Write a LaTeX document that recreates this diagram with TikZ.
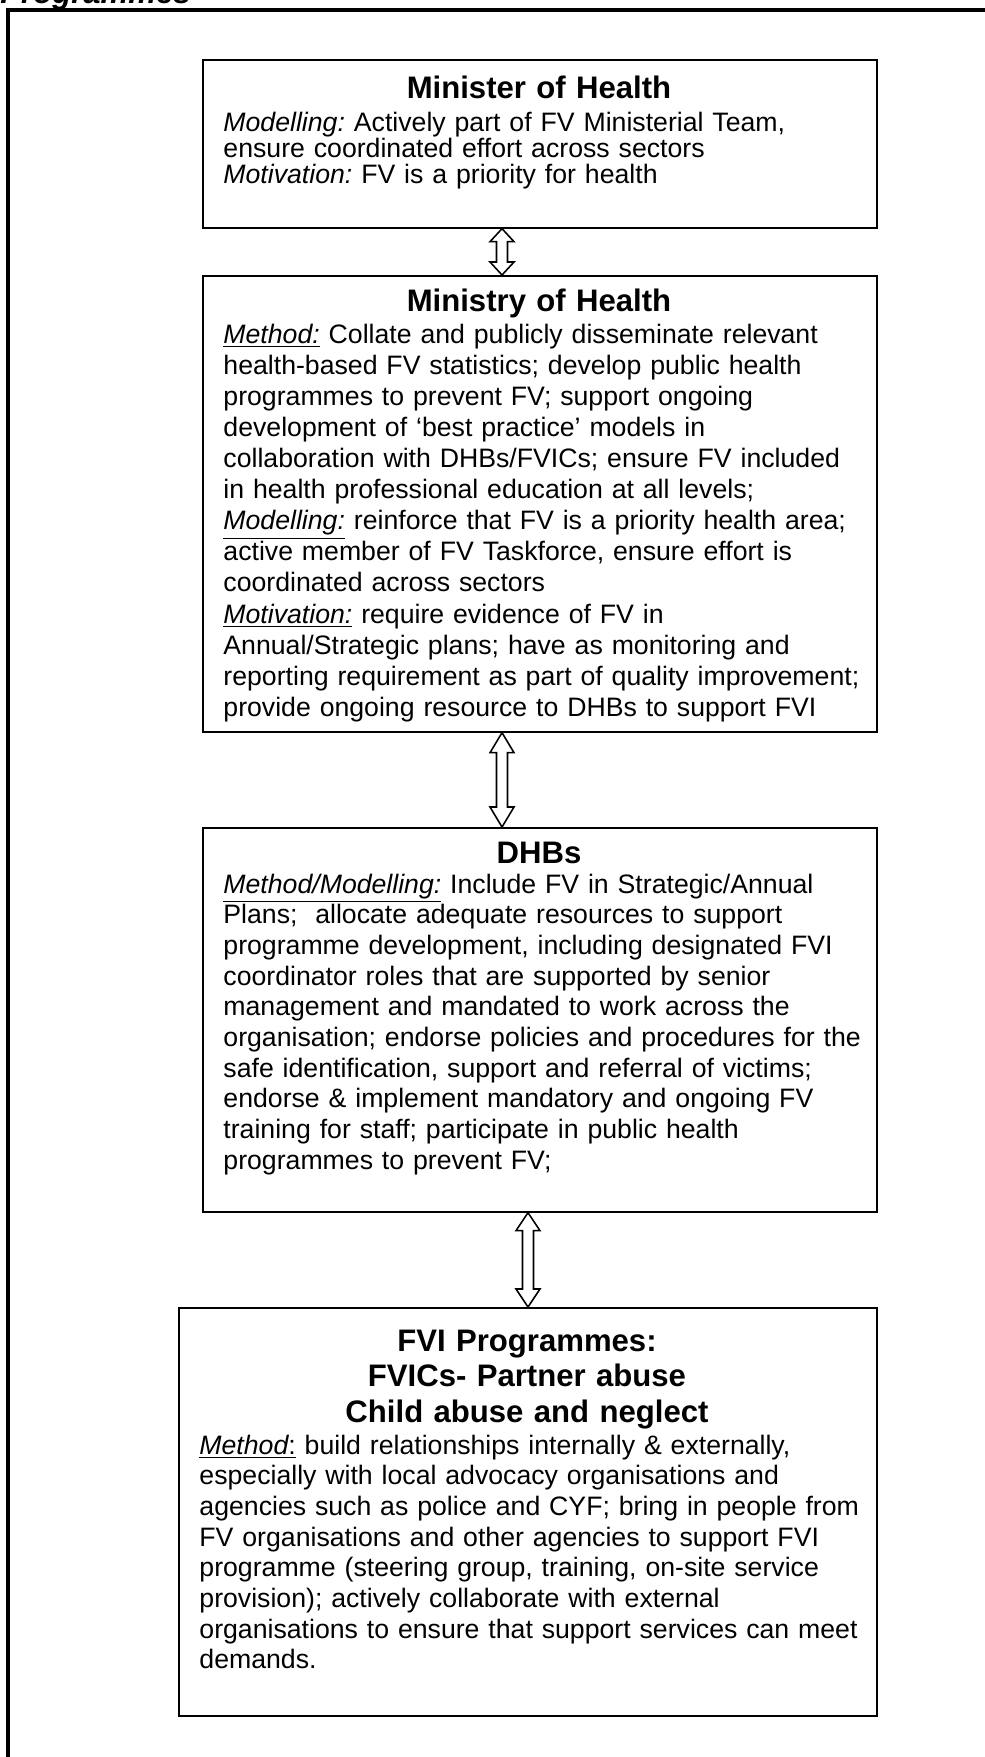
\documentclass[tikz,border=0pt]{standalone}
\usepackage{fontspec}
\setmainfont{Liberation Sans}
\usetikzlibrary{calc}
\tikzset{
  frame/.style={line width=1.5pt},
  box/.style={draw, line width=0.75pt, inner sep=0pt, anchor=north west},
  ttl/.style={font=\bfseries\fontsize{14}{16.1}\selectfont, anchor=base, inner sep=0pt, align=center, text width=300pt},
  body/.style={font=\fontsize{12}{13.8}\selectfont, anchor=base west, inner sep=0pt, align=left, text width=330pt},
  dbl/.style={draw, fill=white, line width=0.7pt, line join=miter},
}
% double outlined arrow between two stacked nodes, at the x of coordinate #1; #4 = head length (px)
\newcommand{\dblarrow}[4]{%
  \path[dbl] (#1 |- #2.south)
    -- ($(#1 |- #2.south)+(12,#4)$) -- ($(#1 |- #2.south)+(5.5,#4)$)
    -- ($(#1 |- #3.north)+(5.5,-#4)$) -- ($(#1 |- #3.north)+(12,-#4)$)
    -- (#1 |- #3.north)
    -- ($(#1 |- #3.north)+(-12,-#4)$) -- ($(#1 |- #3.north)+(-5.5,-#4)$)
    -- ($(#1 |- #2.south)+(-5.5,#4)$) -- ($(#1 |- #2.south)+(-12,#4)$)
    -- cycle;}
\begin{document}
\frenchspacing
\begin{tikzpicture}[x=0.45pt,y=-0.45pt]
\useasboundingbox (0,0) rectangle (985,1757);
% outer frame and cut heading
\draw[frame] (8,1800) -- (8,10) -- (1000,10);
\node[anchor=base west, inner sep=0pt, font=\bfseries\itshape\fontsize{14}{16}\selectfont] (prog) at (0,4) {Programmes};

% boxes
\node[box, minimum width=674*0.45pt, minimum height=168*0.45pt] (minister) at (202,59) {};
\node[box, minimum width=674*0.45pt, minimum height=456*0.45pt] (ministry) at (202,275) {};
\node[box, minimum width=674*0.45pt, minimum height=384*0.45pt] (dhbs) at (202,827) {};
\node[box, minimum width=698*0.45pt, minimum height=408*0.45pt] (fvi) at (178,1307) {};

% Minister
\node[ttl] (ministerT) at (539,99) {Minister of Health};
\node[body, font=\fontsize{12}{11.6}\selectfont] (ministerB) at (223,132) {{\itshape Modelling:} Actively part of FV Ministerial Team,\\
ensure coordinated effort across sectors\\
{\itshape Motivation:} FV is a priority for health};

% Ministry
\node[ttl] (ministryT) at (539,311) {Ministry of Health};
\node[body, font=\fontsize{12}{14}\selectfont] (ministryB) at (223,343) {\underline{\itshape Method:} Collate and publicly disseminate relevant\\
health-based FV statistics; develop public health\\
programmes to prevent FV; support ongoing\\
development of ‘best practice’ models in\\
collaboration with DHBs/FVICs; ensure FV included\\
in health professional education at all levels;\\
\underline{\itshape Modelling:} reinforce that FV is a priority health area;\\
active member of FV Taskforce, ensure effort is\\
coordinated across sectors\\
\underline{\itshape Motivation:} require evidence of FV in\\
Annual/Strategic plans; have as monitoring and\\
reporting requirement as part of quality improvement;\\
provide ongoing resource to DHBs to support FVI};

% DHBs
\node[ttl] (dhbsT) at (539,863) {DHBs};
\node[body] (dhbsB) at (223,893) {\underline{\itshape Method/Modelling:} Include FV in Strategic/Annual\\
Plans;\ \ allocate adequate resources to support\\
programme development, including designated FVI\\
coordinator roles that are supported by senior\\
management and mandated to work across the\\
organisation; endorse policies and procedures for the\\
safe identification, support and referral of victims;\\
endorse \& implement mandatory and ongoing FV\\
training for staff; participate in public health\\
programmes to prevent FV;};

% FVI
\node[ttl] (fviT) at (527,1351) {FVI Programmes:\\ FVICs- Partner abuse\\ Child abuse and neglect};
\node[body] (fviB) at (199,1454) {\underline{{\itshape Method}:} build relationships internally \& externally,\\
especially with local advocacy organisations and\\
agencies such as police and CYF; bring in people from\\
FV organisations and other agencies to support FVI\\
programme (steering group, training, on-site service\\
provision); actively collaborate with external\\
organisations to ensure that support services can meet\\
demands.};

% connectors
\coordinate (ax1) at (502,0);
\coordinate (ax3) at (528,0);
\dblarrow{ax1}{minister}{ministry}{13}
\dblarrow{ax1}{ministry}{dhbs}{20}
\dblarrow{ax3}{dhbs}{fvi}{18}
\end{tikzpicture}
\end{document}
